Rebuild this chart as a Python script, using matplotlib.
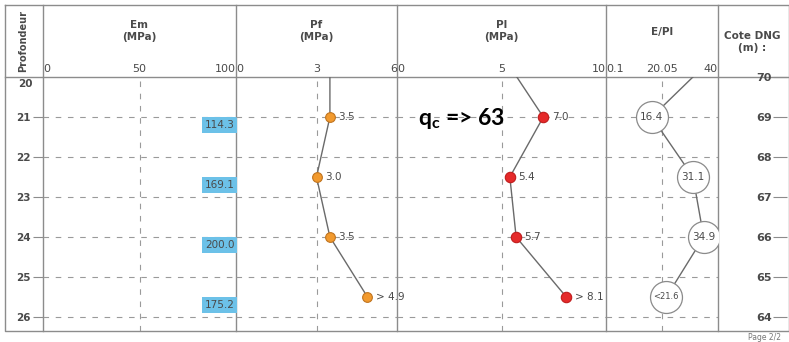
import matplotlib.pyplot as plt
from matplotlib.transforms import blended_transform_factory

# depths (m) of the pressuremeter tests, first one sits above the chart
depth = [19.5, 21.0, 22.5, 24.0, 25.5]
em = [None, 114.3, 169.1, 200.0, 175.2]
pf = [3.5, 3.5, 3.0, 3.5, 4.9]
pl = [5.1, 7.0, 5.4, 5.7, 8.1]
e_pl = [38.4, 16.4, 31.1, 34.9, 21.6]
pf_labels = ['', '3.5', '3.0', '3.5', '> 4.9']
pl_labels = ['', '7.0', '5.4', '5.7', '> 8.1']
e_pl_labels = ['', '16.4', '31.1', '34.9', '<21.6']
depth_ticks = [21, 22, 23, 24, 25, 26]
cote_ticks = [64, 65, 66, 67, 68, 69, 70]
cote_top = 70

W, H = 789, 342
top, y_head, bot = 5, 77, 331
cols = [5, 43, 236, 397, 606, 718, 792]
d0, d1 = 20, 20 + (bot - y_head) / 40

grey = '#8c8c8c'
txt = '#4a4a4a'
line_c = '#6a6a6a'

fig = plt.figure(figsize=(W / 100, H / 100), dpi=100)


def rect(x0, y0, x1, y1):
    return [x0 / W, 1 - y1 / H, (x1 - x0) / W, (y1 - y0) / H]


# frame / header drawn in pixel space
bg = fig.add_axes([0, 0, 1, 1])
bg.set_xlim(0, W)
bg.set_ylim(H, 0)
bg.axis('off')
bg.plot([cols[0], W, W, cols[0], cols[0]], [top, top, bot, bot, top], color=grey, lw=1)
bg.plot([cols[0], W], [y_head, y_head], color=grey, lw=1)
for x in cols[1:6]:
    bg.plot([x, x], [top, bot], color=grey, lw=1)
bg.text(23, 41, 'Profondeur', rotation=90, ha='center', va='center',
        fontsize=7, fontweight='bold', color=txt)
heads = [('Em\n(MPa)', 1), ('Pf\n(MPa)', 2), ('Pl\n(MPa)', 3)]
for s, i in heads:
    bg.text((cols[i] + cols[i + 1]) / 2, 31, s, ha='center', va='center',
            fontsize=7.5, fontweight='bold', color=txt, linespacing=1.2)
bg.text((cols[4] + cols[5]) / 2, 32, 'E/Pl', ha='center', va='center',
        fontsize=7.5, fontweight='bold', color=txt)
bg.text(752, 42, 'Cote DNG\n(m) :', ha='center', va='center',
        fontsize=7.5, fontweight='bold', color=txt, linespacing=1.3)
bg.text(748, 337, 'Page 2/2', ha='left', va='center', fontsize=5.5, color='#777777')


def panel(i, lim, ticks, labels):
    ax = fig.add_axes(rect(cols[i], y_head, cols[i + 1], bot))
    ax.set_facecolor('none')
    ax.set_xlim(*lim)
    ax.set_ylim(d1, d0)
    for sp in ax.spines.values():
        sp.set_visible(False)
    ax.xaxis.tick_top()
    ax.set_xticks(ticks)
    ax.set_xticklabels(labels)
    ax.tick_params(axis='x', length=0, pad=2, labelsize=8, labelcolor=txt)
    tl = ax.get_xticklabels()
    tl[0].set_ha('left')
    tl[-1].set_ha('right')
    ax.set_yticks(depth_ticks)
    ax.tick_params(axis='y', left=False, labelleft=False)
    ax.grid(True, color='#9a9a9a', lw=0.8, ls=(0, (5, 6)))
    ax.xaxis.grid(False)
    ax.axvline(ticks[1], color='#9a9a9a', lw=0.8, ls=(0, (5, 6)))
    return ax


ax_em = panel(1, (0, 100), [0, 50, 100], ['0', '50', '100'])
ax_pf = panel(2, (0, 6), [0, 3, 6], ['0', '3', '6'])
ax_pl = panel(3, (0, 10), [0, 5, 10], ['0', '5', '10'])
ax_ep = panel(4, (0.1, 40), [0.1, 20.05, 40], ['0.1', '20.05', '40'])

# depth axis on the Em panel
ax_em.tick_params(axis='y', left=True, labelleft=True, length=7, width=0.8,
                  color=grey, pad=2, labelsize=7.5, labelcolor=txt)
for t in ax_em.get_yticklabels():
    t.set_fontweight('bold')
tr = blended_transform_factory(ax_em.transAxes, ax_em.transData)
ax_em.text(-0.055, d0 + 0.05, '20', transform=tr, ha='right', va='top',
           fontsize=7.5, fontweight='bold', color=txt)

# Em values (beyond 100 MPa) shown as boxes at the panel edge
for d, v in zip(depth, em):
    if v is None:
        continue
    ax_em.text(99.2, d + 0.19, f'{v:.1f}', ha='right', va='center', fontsize=7.5,
               color=txt, bbox=dict(fc='#6cc1e8', ec='none', pad=2.2))

ax_pf.plot(pf, depth, color=line_c, lw=1, marker='o', ms=7,
           mfc='#f29a2e', mec='#c07420', mew=0.8)
for d, v, s in zip(depth, pf, pf_labels):
    if s:
        ax_pf.annotate(s, (v, d), xytext=(6, 0), textcoords='offset points',
                       va='center', fontsize=7.5, color=txt)

ax_pl.plot(pl, depth, color=line_c, lw=1, marker='o', ms=7.5,
           mfc='#e52a2a', mec='#c01c1c', mew=0.8)
for d, v, s in zip(depth, pl, pl_labels):
    if s:
        ax_pl.annotate(s, (v, d), xytext=(6, 0), textcoords='offset points',
                       va='center', fontsize=7.5, color=txt)

ax_ep.plot(e_pl, depth, color=line_c, lw=1, zorder=2)
ax_ep.plot(e_pl, depth, ls='none', marker='o', ms=23, mfc='white',
           mec='#8a8a8a', mew=0.9, zorder=3)
for d, v, s in zip(depth, e_pl, e_pl_labels):
    if s:
        ax_ep.text(v, d, s, ha='center', va='center', zorder=4, color=txt,
                   fontsize=6 if s.startswith('<') else 7.5)

# elevation axis
ax_c = fig.add_axes(rect(787, y_head, 788, bot))
ax_c.set_facecolor('none')
ax_c.set_ylim(cote_top - (d1 - d0), cote_top)
for sp in ax_c.spines.values():
    sp.set_visible(False)
ax_c.set_xticks([])
ax_c.set_yticks(cote_ticks)
ax_c.tick_params(axis='y', length=10, width=0.8, color=grey, pad=1,
                 labelsize=8, labelcolor=txt)
for t in ax_c.get_yticklabels():
    t.set_fontweight('bold')

fig.text(418 / W, 1 - 125 / H, 'q$\\mathregular{_c}$ => 63', ha='left',
         va='baseline', fontsize=16.5, fontweight='bold', family='Lato', color='black')

fig.savefig('out.png', dpi=100)
